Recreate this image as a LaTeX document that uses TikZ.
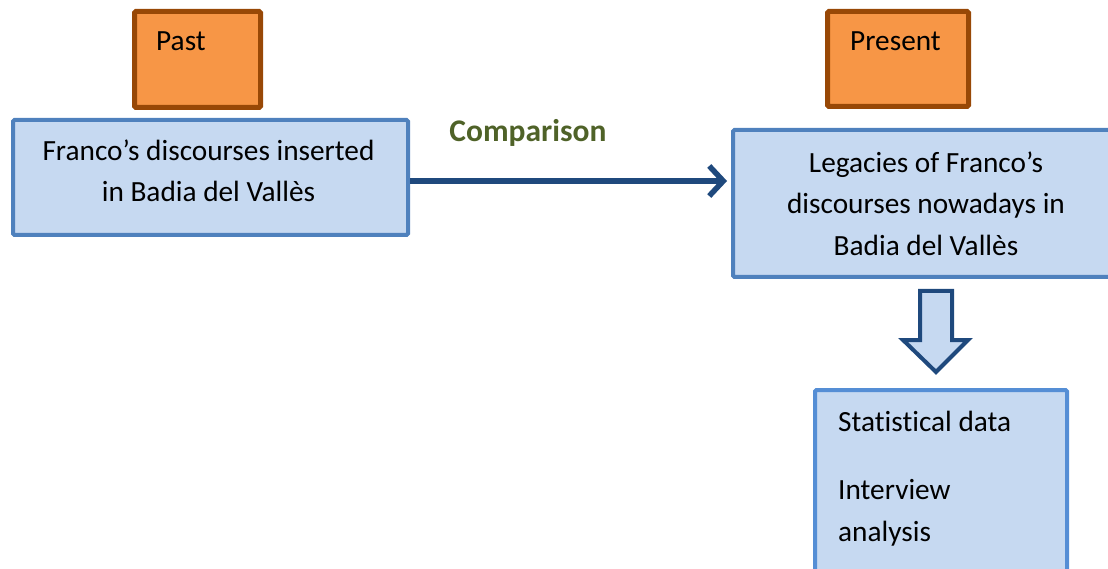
\documentclass[tikz,border=0pt]{standalone}
\usepackage{fontspec}
\setmainfont{Carlito}[Ligatures=NoCommon]
\usetikzlibrary{arrows.meta}
\definecolor{orfill}{HTML}{F79646}
\definecolor{ordraw}{HTML}{984806}
\definecolor{blfill}{HTML}{C6D9F1}
\definecolor{bldraw}{HTML}{4F81BD}
\definecolor{bldrawb}{HTML}{558ED5}
\definecolor{darkblue}{HTML}{1F497D}
\definecolor{olive}{HTML}{4F6228}
\tikzset{
  txt/.style={font=\fontsize{29.3}{41.5}\selectfont, inner sep=0pt},
  orangebox/.style={draw=ordraw, fill=orfill, line width=5pt, rounded corners=1.5pt, inner sep=0pt, anchor=north west},
  bluebox/.style={draw=bldraw, fill=blfill, line width=4pt, rounded corners=1.5pt, inner sep=0pt, anchor=north west, txt, align=center},
  conn/.style={draw=darkblue, line width=5.5pt, -{Straight Barb[length=14pt, width=30pt, line width=5.5pt]}},
  blockarrow/.style={draw=darkblue, fill=blfill, line width=4pt, line join=miter}
}
\begin{document}
\begin{tikzpicture}[x=1pt,y=-1pt]
\useasboundingbox (0,0) rectangle (1108,569);
% orange labels
\node[orangebox, minimum width=126pt, minimum height=96pt] (past) at (132,9) {};
\node[txt, anchor=base west] (pasttxt) at (156,51) {Past};
\node[orangebox, minimum width=141pt, minimum height=95pt] (present) at (825,9) {};
\node[txt, anchor=base west] (presenttxt) at (850,51) {Present};
% blue boxes
\node[bluebox, minimum width=395pt, minimum height=115pt] (left) at (11,118) {};
\node[txt, align=center] (lefttxt) at (208.5,171) {Franco’s discourses inserted\\in Badia del Vallès};
\node[bluebox, minimum width=386pt, minimum height=147pt] (right) at (731,128) {Legacies of Franco’s\\discourses nowadays in\\Badia del Vallès};
\node[bluebox, draw=bldrawb, minimum width=252pt, minimum height=200pt] (bottom) at (813,388) {};
\node[txt, align=left, anchor=north west] (bottomtxt) at (838,411) {Statistical data\\[26.5pt]Interview\\analysis};
% comparison arrow
\coordinate (ay) at (0,181);
\node[txt, font=\fontsize{31.5}{35}\selectfont\bfseries, text=olive] (cmp) at (528,133) {Comparison};
\draw[conn, shorten >=4pt] (left.east |- ay) -- (right.west |- ay);
% block arrow
\draw[blockarrow] (920,291) -- (952,291) -- (952,340) -- (968,340) -- (936,372) -- (903,340) -- (920,340) -- cycle;
\end{tikzpicture}
\end{document}
